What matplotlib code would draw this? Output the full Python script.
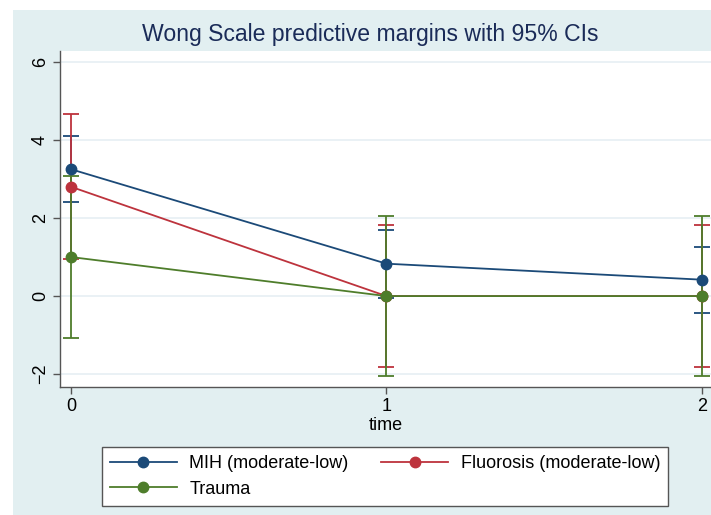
import numpy as np
import matplotlib
matplotlib.use("Agg")
import matplotlib.pyplot as plt
from matplotlib.patches import Rectangle
from matplotlib.lines import Line2D

plt.rcParams["font.family"] = ["Liberation Sans", "DejaVu Sans"]

# Veriler
zaman = [0, 1, 2]
gruplar = ["MIH (moderate-low)", "Fluorosis (moderate-low)", "Trauma"]
mih = [3.25, 0.83, 0.42]
mih_alt = [2.40, -0.04, -0.43]
mih_ust = [4.10, 1.70, 1.27]
flu = [2.80, 0.0, 0.0]
flu_alt = [0.95, -1.82, -1.82]
flu_ust = [4.67, 1.82, 1.82]
trv = [1.00, 0.0, 0.0]
trv_alt = [-1.08, -2.04, -2.04]
trv_ust = [3.08, 2.04, 2.04]
y_ticks = [-2, 0, 2, 4, 6]

renkler = ["#1b4a78", "#bd333d", "#4e7d2b"]
arkaplan = "#e2eff1"

fig = plt.figure(figsize=(7.11, 5.15), dpi=100)
fig.patch.set_facecolor("white")
fig.patches.append(Rectangle((13 / 711, 0), 1, 1 - 10 / 515, transform=fig.transFigure,
                             facecolor=arkaplan, edgecolor="none", zorder=-5))

ax = fig.add_axes([60 / 711, 1 - 387 / 515, 651 / 711, 336 / 515])
ax.set_facecolor("white")

seriler = [(mih, mih_alt, mih_ust), (flu, flu_alt, flu_ust), (trv, trv_alt, trv_ust)]

# Güven aralıkları
for (deger, alt, ust), renk in zip(seriler, renkler):
    deger = np.array(deger)
    hata = [deger - np.array(alt), np.array(ust) - deger]
    ax.errorbar(zaman, deger, yerr=hata, fmt="none", ecolor=renk, elinewidth=1.3,
                capsize=6, capthick=1.3, zorder=3)

# Çizgiler ve noktalar
for (deger, alt, ust), renk, isim in zip(seriler, renkler, gruplar):
    ax.plot(zaman, deger, color=renk, lw=1.3, marker="o", markersize=7.5, label=isim, zorder=4)

ax.set_xlim(-0.035, 2.029)
ax.set_ylim(-2.33, 6.28)
ax.set_xticks(zaman)
ax.set_yticks(y_ticks)
ax.set_yticklabels(["\u22122", "0", "2", "4", "6"], rotation=90, va="center")
ax.grid(axis="y", color="#e6eff4", lw=1.2, zorder=1)
ax.set_axisbelow(True)
for s in ["top", "right"]:
    ax.spines[s].set_visible(False)
for s in ["left", "bottom"]:
    ax.spines[s].set_color("#555555")
    ax.spines[s].set_linewidth(1.0)
ax.tick_params(axis="both", direction="out", length=5, width=1, color="#555555",
               labelsize=13, labelcolor="black", pad=3)
ax.set_xlabel("time", fontsize=13, labelpad=1)

fig.text(370 / 711, 1 - 35 / 515, "Wong Scale predictive margins with 95% CIs",
         ha="center", va="center", fontsize=16.6, color="#1a2b58")

# Lejant: sütun sırası için MIH, Trauma, Fluorosis
tutamaclar = [Line2D([], [], color=r, lw=1.3, marker="o", markersize=7.5) for r in renkler]
sira = [0, 2, 1]
leg = fig.legend([tutamaclar[i] for i in sira], [gruplar[i] for i in sira], ncol=2,
                 loc="center", bbox_to_anchor=(385 / 711, 1 - 476.5 / 515),
                 frameon=True, fancybox=False, framealpha=1, fontsize=13,
                 handlelength=3.7, columnspacing=1.8, borderaxespad=0,
                 handletextpad=0.7, labelspacing=0.45, borderpad=0.45)
leg.get_frame().set_edgecolor("#555555")
leg.get_frame().set_linewidth(1.0)

plt.savefig("out.png", dpi=100)
